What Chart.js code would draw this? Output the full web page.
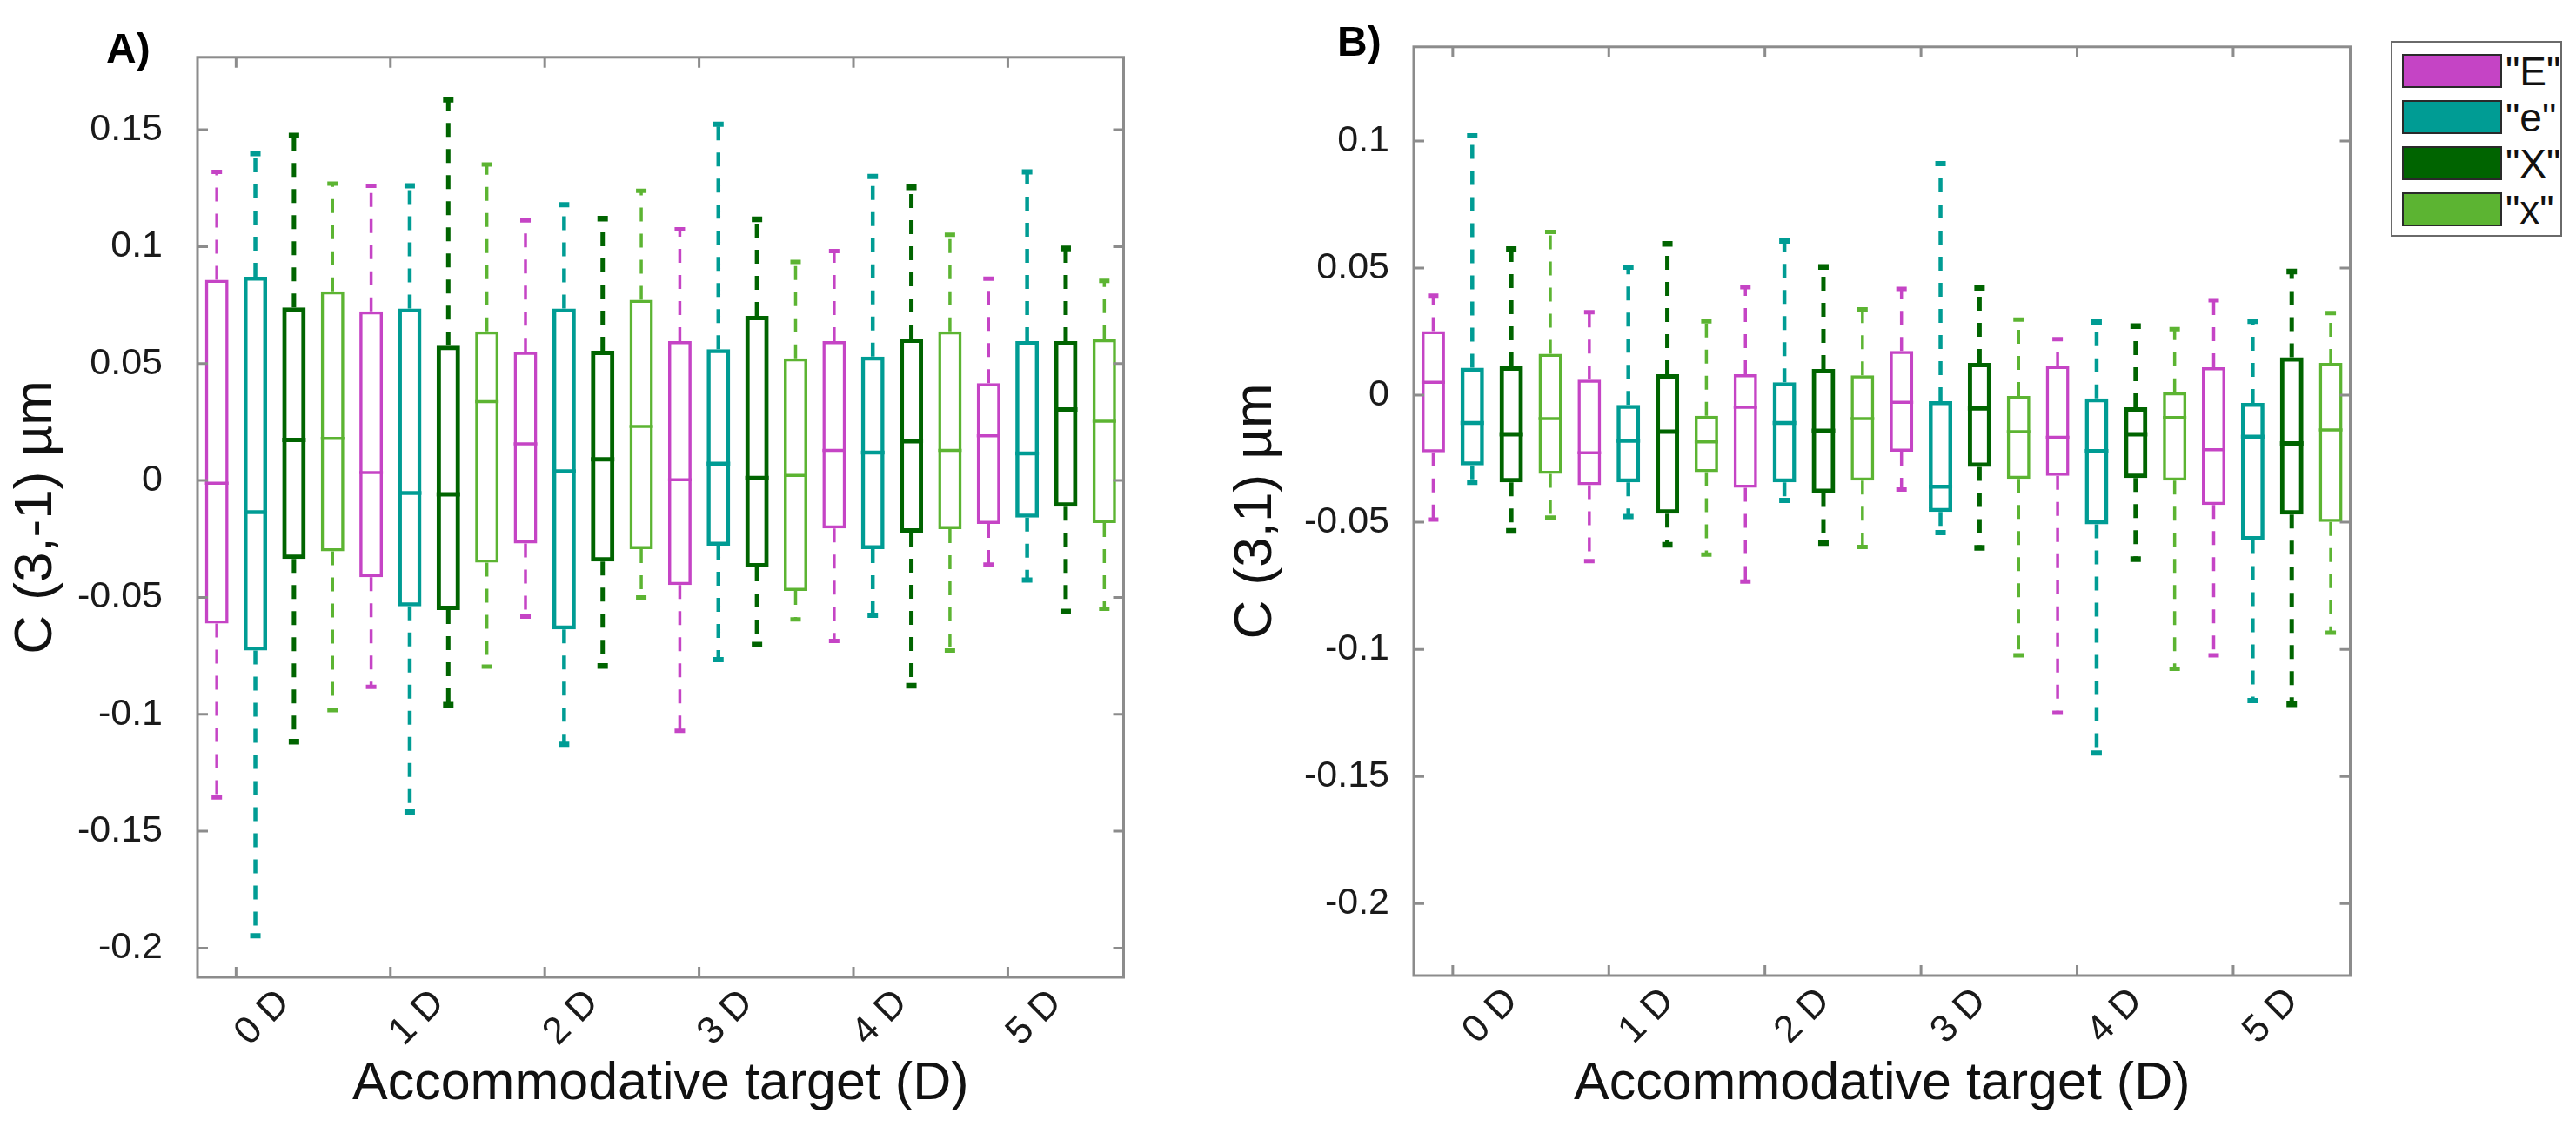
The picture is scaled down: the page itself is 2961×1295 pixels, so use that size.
<!DOCTYPE html>
<html>
<head>
<meta charset="utf-8">
<title>C(3,-1) and C(3,1) by accommodative target</title>
<script src="https://cdn.jsdelivr.net/npm/chart.js@4.4.1/dist/chart.umd.min.js"></script>
<style>
  html, body { margin: 0; padding: 0; background: #fff; }
  body { width: 2961px; height: 1295px; position: relative; overflow: hidden;
         font-family: 'Liberation Sans', Arial, sans-serif; }
  .panel { position: absolute; top: 0; height: 1295px; }
  #panelA { left: 0; width: 1310px; }
  #panelB { left: 1400px; width: 1320px; }
  #legend { position: absolute; left: 2748px; top: 47px; width: 197px; height: 225px;
            border: 2px solid #6a6a6a; box-sizing: border-box; background: #fff; }
  .item { position: absolute; left: 11px; height: 39px; display: flex; align-items: center; }
  .swatch { width: 115px; height: 39px; box-sizing: border-box; border: 2px solid #2a2a2a; flex: none; }
  .lbl { font-size: 46px; line-height: 1; margin-left: 4px; color: #111; white-space: nowrap; }
</style>
</head>
<body>
<div id="panelA" class="panel"><canvas id="chartA"></canvas></div>
<div id="panelB" class="panel"><canvas id="chartB"></canvas></div>
<div id="legend"></div>

<script>
// categories and series
const targets = ['0 D', '1 D', '2 D', '3 D', '4 D', '5 D'];
const series = ['"E"', '"e"', '"X"', '"x"'];
const colors = ['#C544C5', '#009C94', '#006400', '#5CB432'];
const lineWidths = [3.5, 4.5, 5, 3.5];

const yTicksA = [-0.2, -0.15, -0.1, -0.05, 0, 0.05, 0.1, 0.15];
const yTicksB = [-0.2, -0.15, -0.1, -0.05, 0, 0.05, 0.1];

// each row: [lower whisker, Q1, median, Q3, upper whisker], one row per target
// panel A: C(3,-1)
const A_E = [
  [-0.1355, -0.0612, -0.0012, 0.0858, 0.132],
  [-0.0883, -0.0414, 0.0034, 0.0723, 0.126],
  [-0.0582, -0.027, 0.0157, 0.055, 0.1112],
  [-0.1071, -0.0447, 0.0003, 0.0596, 0.1074],
  [-0.0686, -0.0205, 0.0129, 0.0596, 0.0981],
  [-0.036, -0.0186, 0.0191, 0.0416, 0.0863]
];
const A_e = [
  [-0.1947, -0.0727, -0.0136, 0.0871, 0.1398],
  [-0.1418, -0.0538, -0.0054, 0.0735, 0.126],
  [-0.1128, -0.0637, 0.0039, 0.0735, 0.1179],
  [-0.0766, -0.0279, 0.0072, 0.0561, 0.1524],
  [-0.0577, -0.0294, 0.0119, 0.053, 0.130],
  [-0.0426, -0.0159, 0.0116, 0.0596, 0.132]
];
const A_X = [
  [-0.1117, -0.0336, 0.0173, 0.074, 0.1475],
  [-0.0959, -0.0554, -0.0059, 0.0576, 0.1629],
  [-0.0793, -0.0347, 0.0091, 0.0555, 0.112],
  [-0.0702, -0.0372, 0.0011, 0.0704, 0.1117],
  [-0.0878, -0.0223, 0.0168, 0.0607, 0.1254],
  [-0.0561, -0.0112, 0.0304, 0.0596, 0.0992]
];
const A_x = [
  [-0.0982, -0.0303, 0.018, 0.0809, 0.127],
  [-0.0796, -0.0351, 0.0337, 0.0638, 0.1351],
  [-0.05, -0.0294, 0.0231, 0.0773, 0.1239],
  [-0.0594, -0.0472, 0.0022, 0.0522, 0.0935],
  [-0.0727, -0.0208, 0.0129, 0.0638, 0.1051],
  [-0.0549, -0.0182, 0.0253, 0.0604, 0.0854]
];

// panel B: C(3,1)
const B_E = [
  [-0.0489, -0.0225, 0.0051, 0.0252, 0.0391],
  [-0.0653, -0.0354, -0.0227, 0.0061, 0.0326],
  [-0.0733, -0.0364, -0.0048, 0.0082, 0.0425],
  [-0.0371, -0.0222, -0.0028, 0.0174, 0.0418],
  [-0.1249, -0.0317, -0.0166, 0.0115, 0.022],
  [-0.1023, -0.0432, -0.0215, 0.011, 0.0373]
];
const B_e = [
  [-0.0343, -0.0276, -0.0109, 0.0108, 0.102],
  [-0.0477, -0.0343, -0.018, -0.0038, 0.0503],
  [-0.0414, -0.0343, -0.0109, 0.0051, 0.0606],
  [-0.0541, -0.0459, -0.036, -0.0024, 0.0911],
  [-0.1408, -0.0508, -0.022, -0.0013, 0.0288],
  [-0.1201, -0.057, -0.0163, -0.0031, 0.029]
];
const B_X = [
  [-0.0534, -0.0343, -0.0154, 0.0113, 0.0574],
  [-0.0589, -0.0466, -0.0144, 0.0082, 0.0595],
  [-0.0582, -0.0385, -0.014, 0.0103, 0.0504],
  [-0.0601, -0.0282, -0.0052, 0.0127, 0.0422],
  [-0.0645, -0.0326, -0.0154, -0.0048, 0.0271],
  [-0.1216, -0.047, -0.019, 0.0149, 0.0486]
];
const B_x = [
  [-0.0482, -0.031, -0.0092, 0.0163, 0.0642],
  [-0.0627, -0.0303, -0.0184, -0.0081, 0.029],
  [-0.0597, -0.0336, -0.0092, 0.0078, 0.0337],
  [-0.1023, -0.0329, -0.0144, -0.0003, 0.0297],
  [-0.1076, -0.0336, -0.0088, 0.0011, 0.0259],
  [-0.0934, -0.0499, -0.0137, 0.0127, 0.0323]
];

const FONT = "'Liberation Sans', Arial, sans-serif";

// box = floating bar (Q1..Q3), median = line point, whiskers = dashed line with caps
function boxDatasets(groups) {
  const sets = [];
  groups.forEach((rows, s) => {
    const col = colors[s];
    const lw = lineWidths[s];
    const pos = g => g * series.length + s;

    sets.push({
      type: 'bar',
      label: series[s],
      data: rows.map((r, g) => ({ x: pos(g), y: [r[1], r[3]] })),
      backgroundColor: 'rgba(255,255,255,0)',
      borderColor: col,
      borderWidth: lw,
      borderSkipped: false,
      grouped: false,
      maxBarThickness: 27
    });

    sets.push({
      type: 'line',
      label: series[s] + ' median',
      data: rows.map((r, g) => ({ x: pos(g), y: r[2] })),
      showLine: false,
      pointStyle: 'line',
      pointRadius: 13.5,
      pointBorderWidth: lw,
      pointBorderColor: col,
      borderColor: col
    });

    const whisk = [];
    const radii = [];
    rows.forEach((r, g) => {
      const p = pos(g);
      whisk.push({ x: p, y: r[3] }, { x: p, y: r[4] }, { x: p, y: null },
                 { x: p, y: r[1] }, { x: p, y: r[0] }, { x: p, y: null });
      radii.push(0, 6, 0, 0, 6, 0);
    });
    sets.push({
      type: 'line',
      label: series[s] + ' whiskers',
      data: whisk,
      borderColor: col,
      borderWidth: lw,
      borderDash: [16, 14],
      spanGaps: false,
      fill: false,
      pointStyle: 'line',
      pointRadius: radii,
      pointBorderWidth: lw + 1.5,
      pointBorderColor: col
    });
  });
  return sets;
}

// MATLAB-like box: grey frame, inward ticks on all four sides, panel letter
const frame = {
  id: 'frame',
  afterDraw(chart, args, opts) {
    const { ctx, chartArea: a } = chart;
    const x = chart.scales.x, y = chart.scales.y;
    ctx.save();
    ctx.strokeStyle = '#8c8c8c';
    ctx.lineWidth = 3;
    ctx.strokeRect(a.left, a.top, a.right - a.left, a.bottom - a.top);
    ctx.beginPath();
    y.ticks.forEach(t => {
      const py = y.getPixelForValue(t.value);
      ctx.moveTo(a.left, py); ctx.lineTo(a.left + 12, py);
      ctx.moveTo(a.right, py); ctx.lineTo(a.right - 12, py);
    });
    x.ticks.forEach(t => {
      const px = x.getPixelForValue(t.value);
      ctx.moveTo(px, a.top); ctx.lineTo(px, a.top + 12);
      ctx.moveTo(px, a.bottom); ctx.lineTo(px, a.bottom - 12);
    });
    ctx.stroke();

    ctx.fillStyle = '#000';
    ctx.font = 'bold 48px ' + FONT;
    ctx.textAlign = 'left';
    ctx.textBaseline = 'alphabetic';
    ctx.fillText(opts.label, a.left - opts.dx, a.top + opts.dy);
    ctx.restore();
  }
};

function makeChart(id, groups, yMin, yMax, yTicks, yTitle, cfg) {
  return new Chart(document.getElementById(id), {
    type: 'bar',
    data: { datasets: boxDatasets(groups) },
    options: {
      responsive: true,
      maintainAspectRatio: false,
      animation: false,
      events: [],
      layout: { padding: { left: 0, right: cfg.padRight, top: cfg.padTop, bottom: 0 } },
      plugins: {
        legend: { display: false },
        tooltip: { enabled: false },
        frame: { label: cfg.label, dx: cfg.dx, dy: cfg.dy }
      },
      scales: {
        x: {
          type: 'linear',
          offset: false,
          min: -0.5,
          max: series.length * targets.length - 0.5,
          grid: { display: false, drawTicks: false },
          border: { display: false },
          afterBuildTicks: s => { s.ticks = targets.map((t, i) => ({ value: i * series.length + 0.5 })); },
          afterFit: s => { s.height = cfg.xHeight; },
          ticks: {
            autoSkip: false,
            minRotation: 45,
            maxRotation: 45,
            padding: 4,
            labelOffset: cfg.labelOffset,
            color: '#1a1a1a',
            font: { family: FONT, size: 44 },
            callback: (v, i) => targets[i]
          },
          title: {
            display: true,
            text: 'Accommodative target (D)',
            color: '#111',
            font: { family: FONT, size: 61, lineHeight: 1 },
            padding: { top: 0, bottom: 18 }
          }
        },
        y: {
          min: yMin,
          max: yMax,
          grid: { display: false, drawTicks: false },
          border: { display: false },
          afterBuildTicks: s => { s.ticks = yTicks.map(v => ({ value: v })); },
          afterFit: s => { s.width = cfg.yWidth; },
          ticks: {
            padding: cfg.tickPad,
            color: '#1a1a1a',
            font: { family: FONT, size: 43 },
            callback: v => String(+v.toFixed(2))
          },
          title: {
            display: true,
            text: yTitle,
            color: '#111',
            font: { family: FONT, size: 62, lineHeight: 1 },
            padding: { top: cfg.titlePad, bottom: 0 }
          }
        }
      }
    },
    plugins: [frame]
  });
}

makeChart('chartA', [A_E, A_e, A_X, A_x], -0.2125, 0.181, yTicksA, 'C (3,-1) µm',
  { label: 'A)', dx: 105, dy: 6, padTop: 62, padRight: 18, xHeight: 172, yWidth: 227,
    tickPad: 40, titlePad: 11, labelOffset: 55 });

makeChart('chartB', [B_E, B_e, B_X, B_x], -0.2283, 0.137, yTicksB, 'C (3,1) µm',
  { label: 'B)', dx: 88, dy: 10, padTop: 52, padRight: 17, xHeight: 174, yWidth: 225,
    tickPad: 28, titlePad: 13, labelOffset: 68 });

// legend box (upper right, next to panel B)
const legend = document.getElementById('legend');
series.forEach((name, s) => {
  const item = document.createElement('div');
  item.className = 'item';
  item.style.top = (13 + s * 53) + 'px';
  const sw = document.createElement('div');
  sw.className = 'swatch';
  sw.style.background = colors[s];
  const lbl = document.createElement('span');
  lbl.className = 'lbl';
  lbl.textContent = name;
  item.appendChild(sw);
  item.appendChild(lbl);
  legend.appendChild(item);
});
</script>
</body>
</html>
